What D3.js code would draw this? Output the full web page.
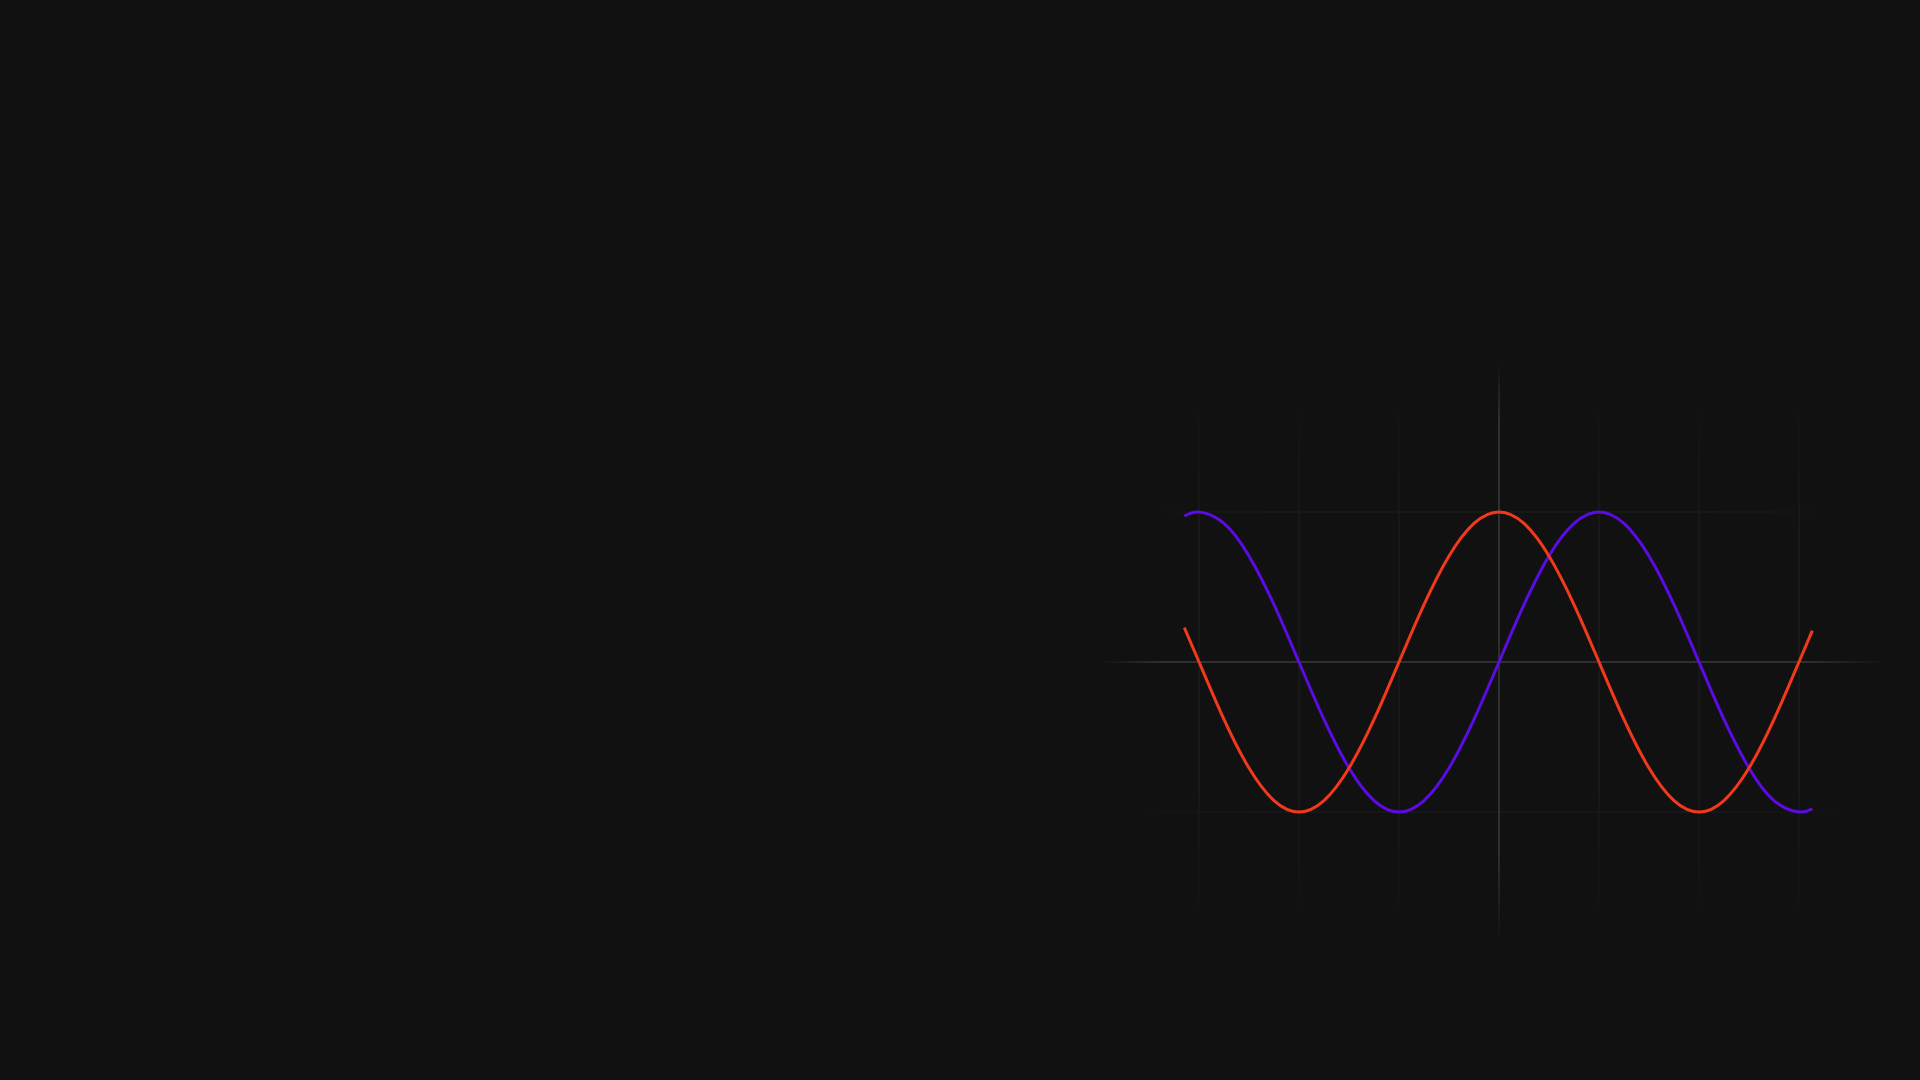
<!DOCTYPE html>
<html>
<head>
<meta charset="utf-8">
<script src="https://cdn.jsdelivr.net/npm/d3@7"></script>
<style>
  html, body { margin: 0; padding: 0; background: #121112; }
  svg { display: block; }
</style>
</head>
<body>
<svg id="chart" width="1920" height="1080"></svg>
<script>
// Sample positions (radians) and values
const xs = [-4.943, -4.712, -4.320, -3.927, -3.534, -3.142, -2.749, -2.356, -1.963, -1.571, -1.178, -0.785, -0.393, 0,
            0.393, 0.785, 1.178, 1.571, 1.963, 2.356, 2.749, 3.142, 3.534, 3.927, 4.320, 4.712, 4.922];
const sinValues = [0.973, 1, 0.924, 0.707, 0.383, 0, -0.383, -0.707, -0.924, -1, -0.924, -0.707, -0.383, 0,
                   0.383, 0.707, 0.924, 1, 0.924, 0.707, 0.383, 0, -0.383, -0.707, -0.924, -1, -0.978];
const cosValues = [0.229, 0, -0.383, -0.707, -0.924, -1, -0.924, -0.707, -0.383, 0, 0.383, 0.707, 0.924, 1,
                   0.924, 0.707, 0.383, 0, -0.383, -0.707, -0.924, -1, -0.924, -0.707, -0.383, 0, 0.209];
const gridX = [-1.5 * Math.PI, -Math.PI, -0.5 * Math.PI, 0.5 * Math.PI, Math.PI, 1.5 * Math.PI];
const gridY = [-1, 1];

const svg = d3.select("#chart");
const x = d3.scaleLinear().domain([-2 * Math.PI, 2 * Math.PI]).range([1099, 1899]);
const y = d3.scaleLinear().domain([-2, 2]).range([962, 362]);

const defs = svg.append("defs");
function grad(id, x1, y1, x2, y2, color, stops) {
  const g = defs.append("linearGradient").attr("id", id)
    .attr("gradientUnits", "userSpaceOnUse")
    .attr("x1", x1).attr("y1", y1).attr("x2", x2).attr("y2", y2);
  stops.forEach(([o, a]) => g.append("stop").attr("offset", o).attr("stop-color", color).attr("stop-opacity", a));
}

// faint vertical grid
grad("gv", 0, 390, 0, 930, "#1b1a1b", [[0, 0], [0.25, 1], [0.75, 1], [1, 0]]);
svg.append("g").selectAll("line").data(gridX).join("line")
  .attr("x1", d => x(d)).attr("x2", d => x(d))
  .attr("y1", 390).attr("y2", 930)
  .attr("stroke", "url(#gv)").attr("stroke-width", 1.5);

// faint horizontal grid
grad("gh", 1120, 0, 1860, 0, "#1a191a", [[0, 0], [0.2, 1], [0.8, 1], [1, 0]]);
svg.append("g").selectAll("line").data(gridY).join("line")
  .attr("x1", 1120).attr("x2", 1860)
  .attr("y1", d => y(d)).attr("y2", d => y(d))
  .attr("stroke", "url(#gh)").attr("stroke-width", 1.5);

// main axes
grad("ah", 1100, 0, 1885, 0, "#3a393a", [[0, 0], [0.08, 1], [0.9, 1], [1, 0]]);
svg.append("line")
  .attr("x1", 1100).attr("x2", 1885)
  .attr("y1", y(0)).attr("y2", y(0))
  .attr("stroke", "url(#ah)").attr("stroke-width", 1.5);

grad("av", 0, 362, 0, 942, "#3a393a", [[0, 0], [0.1, 1], [0.85, 1], [1, 0]]);
svg.append("line")
  .attr("x1", x(0)).attr("x2", x(0))
  .attr("y1", 362).attr("y2", 942)
  .attr("stroke", "url(#av)").attr("stroke-width", 1.5);

const line = vals => d3.line()
  .x((d, i) => x(xs[i]))
  .y(d => y(d))
  .curve(d3.curveNatural)(vals);

svg.append("path").attr("d", line(sinValues))
  .attr("fill", "none").attr("stroke", "#5b0be3").attr("stroke-width", 3);
svg.append("path").attr("d", line(cosValues))
  .attr("fill", "none").attr("stroke", "#f2391c").attr("stroke-width", 3);
</script>
</body>
</html>
